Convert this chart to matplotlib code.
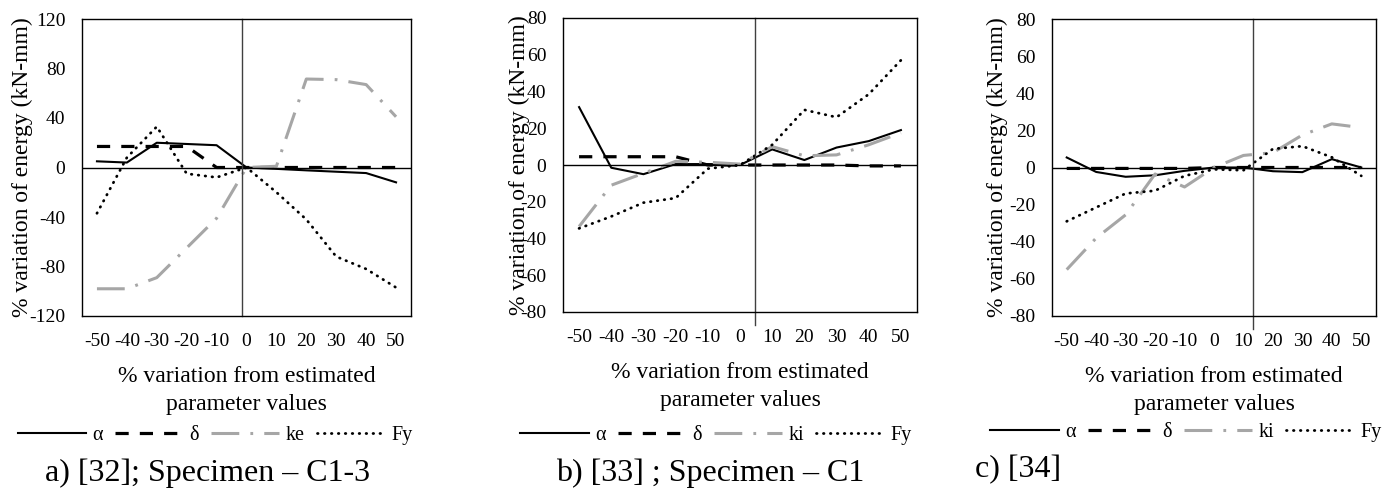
import numpy as np
import matplotlib
matplotlib.use("Agg")
import matplotlib.pyplot as plt

plt.rcParams['font.family'] = ['Liberation Serif', 'DejaVu Serif']
plt.rcParams['axes.unicode_minus'] = False
plt.rcParams['lines.scale_dashes'] = False

x_labels = [-50, -40, -30, -20, -10, 0, 10, 20, 30, 40, 50]

# a) [32]; Specimen C1-3
a_alpha = [5, 4, 20, 19, 18, 0, -1.1, -2.3, -3.4, -4.5, -12]
a_delta = [17, 17, 17, 17, 0, 0, 0, 0, 0, 0, 0]
a_ke = [-98, -98, -89, -65, -41, 0, 1, 71.5, 71, 67, 41]
a_fy = [-37, 8, 33, -5, -8, 0, -20, -42, -72, -82, -97]

# b) [33]; Specimen C1
b_alpha = [31.5, -1.5, -5, 0.5, 0.5, 0, 8.5, 2.7, 9.5, 13, 19]
b_delta = [4.5, 4.5, 4.5, 4.5, 0, 0, 0, 0, 0, -0.5, -0.5]
b_ki = [-33.5, -11, -4.5, 2, 1.5, 0.5, 10, 5, 5.5, 11, 17.5]
b_fy = [-34.5, -28, -20.5, -18, -2, 0, 11, 30, 26, 38.5, 57]

# c) [34]
c_alpha = [5.4, -2.4, -5, -4.2, -1.8, 0, 0, -2, -2.5, 4.5, 0]
c_delta = [-0.5, -0.5, -0.5, -0.5, -0.5, 0, 0, 0, 0, 0, 0]
c_ki = [-55, -38, -25.5, -3.5, -10.5, 0, 6.5, 8, 17.5, 23.5, 21.5]
c_fy = [-29, -21.5, -14, -12.5, -4.5, -1, -1.5, 10, 11.5, 5.5, -4.5]

W, H = 1398, 492
fig = plt.figure(figsize=(W / 100, H / 100), dpi=100)


def px_axes(l, t, r, b):
    return fig.add_axes([l / W, 1 - b / H, (r - l) / W, (b - t) / H])


FS = 14       # tick labels
FS_T = 17     # axis titles
FS_L = 14.5   # legend
GRAY = '#a6a6a6'


def panel(ax, series, k_name, ylim, ystep, vline_x, vline_ext, ylab_x):
    alpha, delta, k, fy = series
    idx = np.arange(len(x_labels))
    ax.plot(idx, alpha, color='black', lw=1.5, label='α')
    ax.plot(idx, delta, color='black', lw=2.3, dashes=(9.5, 8), label='δ')
    ax.plot(idx, k, color=GRAY, lw=2.2, dashes=(20, 8, 2, 8), label=k_name)
    ax.plot(idx, fy, color='black', lw=2.0, dashes=(0.4, 4.6),
            dash_capstyle='round', label='Fy')
    ax.set_xlim(-0.5, len(x_labels) - 0.5)
    ax.set_ylim(*ylim)
    ax.set_yticks(np.arange(ylim[0], ylim[1] + 1, ystep))
    ax.set_xticks(idx)
    ax.set_xticklabels([str(v) for v in x_labels])
    ax.tick_params(length=0, labelsize=FS)
    ax.tick_params(axis='y', pad=12)
    ax.tick_params(axis='x', pad=12)
    ax.axhline(0, color='black', lw=1.0)
    ax.axvline(vline_x, ymin=-vline_ext, ymax=1, color='#404040', lw=1.0,
               clip_on=False)
    for s in ax.spines.values():
        s.set_linewidth(1.0)
        s.set_color('black')
    ax.set_xlabel('% variation from estimated\nparameter values', fontsize=FS_T,
                  labelpad=12, linespacing=1.4)
    ax.set_ylabel('% variation of energy (kN-mm)', fontsize=FS_T, va='center')
    ax.yaxis.set_label_coords(ylab_x, 0.5)


ax_a = px_axes(82, 19, 411, 316)
panel(ax_a, (a_alpha, a_delta, a_ke, a_fy), 'ke', (-120, 120), 40, 4.85, 0, -0.18)
ax_b = px_axes(563, 18, 917, 312)
panel(ax_b, (b_alpha, b_delta, b_ki, b_fy), 'ki', (-80, 80), 20, 5.48, 0.044, -0.124)
ax_c = px_axes(1052, 19, 1376, 316)
panel(ax_c, (c_alpha, c_delta, c_ki, c_fy), 'ki', (-80, 80), 20, 6.31, 0.044, -0.17)

for ax, cx, cy in [(ax_a, 215, 435), (ax_b, 716, 435), (ax_c, 1186, 432)]:
    ax.legend(loc='center', bbox_to_anchor=(cx / W, 1 - cy / H),
              bbox_transform=fig.transFigure, ncol=4, frameon=False,
              fontsize=FS_L, handlelength=3.4, handletextpad=0.3,
              columnspacing=0.6, borderpad=0, borderaxespad=0)

fig.text(208 / W, 1 - 473 / H, 'a) [32]; Specimen – C1-3', fontsize=23,
         ha='center', va='center')
fig.text(710 / W, 1 - 473 / H, 'b) [33] ; Specimen – C1', fontsize=23,
         ha='center', va='center')
fig.text(975 / W, 1 - 470 / H, 'c) [34]', fontsize=23, ha='left', va='center')

fig.savefig('out.png', dpi=100)
